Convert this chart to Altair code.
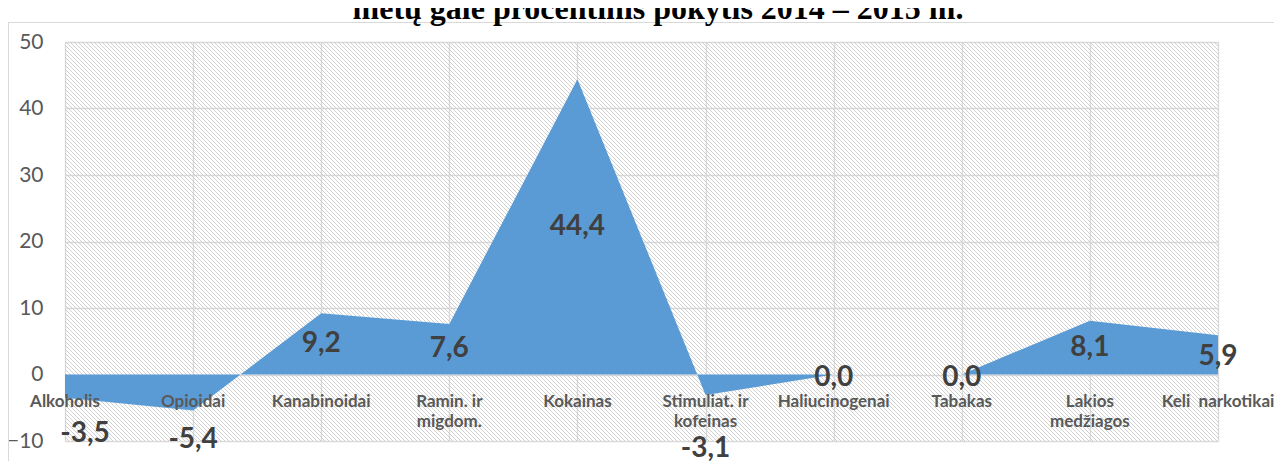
import altair as alt
import pandas as pd

# ---- data ----
categories = ["Alkoholis", "Opioidai", "Kanabinoidai", "Ramin. ir|migdom.", "Kokainas",
              "Stimuliat. ir|kofeinas", "Haliucinogenai", "Tabakas", "Lakios|medžiagos",
              "Keli\u00a0 narkotikai"]
values = [-3.5, -5.4, 9.2, 7.6, 44.4, -3.1, 0.0, 0.0, 8.1, 5.9]
# where each value label sits (data units), as placed in the original
label_anchor = [-8.9, -9.8, 4.6, 3.8, 22.2, -11.2, -0.6, -0.6, 4.05, 2.6]
y_ticks = [-10, 0, 10, 20, 30, 40, 50]
title_text = "metų gale procentinis pokytis 2014 – 2015 m."

df = pd.DataFrame({
    "idx": list(range(len(categories))),
    "cat": categories,
    "val": values,
    "anchor": label_anchor,
    "txt": [f"{v:.1f}".replace(".", ",") for v in values],
})

W, H = 1153, 399
GRID = "#d9d9d9"

# ---- hatch background: square tiles, each filled with a striped gradient (style only) ----
TILE = 24
n_per = (2 * TILE) // 4          # one 1px diagonal line every 4px
stripe = "#d0d0d0"
clear = "rgba(255,255,255,0)"
stops = []
for i in range(n_per):
    a = i / n_per
    s0 = (i + 0.125) / n_per
    s1 = (i + 0.375) / n_per
    e = (i + 1) / n_per
    stops += [
        alt.GradientStop(color=clear, offset=round(a, 6)),
        alt.GradientStop(color=clear, offset=round(s0, 6)),
        alt.GradientStop(color=stripe, offset=round(s0, 6)),
        alt.GradientStop(color=stripe, offset=round(s1, 6)),
        alt.GradientStop(color=clear, offset=round(s1, 6)),
        alt.GradientStop(color=clear, offset=round(e, 6)),
    ]
hatch_fill = alt.LinearGradient(gradient="linear", stops=stops, x1=0, y1=1, x2=1, y2=0)

tiles = pd.DataFrame(
    [{"tx": tx, "tx2": tx + TILE, "ty": ty, "ty2": ty + TILE}
     for tx in range(0, W, TILE) for ty in range(0, H, TILE)]
)

x_enc = alt.X("cat:N", sort=categories,
              scale=alt.Scale(type="point", padding=0),
              axis=alt.Axis(grid=True, labels=False, ticks=False, domain=False,
                            title=None, gridColor=GRID, gridWidth=1.3))
y_enc = alt.Y("val:Q",
              scale=alt.Scale(domain=[-10, 50], nice=False, zero=False),
              axis=alt.Axis(values=y_ticks, grid=True, ticks=False, domain=False,
                            title=None, gridColor=GRID, gridWidth=1.3,
                            labelFont="Lato", labelFontSize=21, labelColor="#595959",
                            labelPadding=22))

base = alt.Chart(df)
one = alt.Chart(pd.DataFrame({"a": [0]}))

hatch = alt.Chart(tiles).mark_rect(fill=hatch_fill, clip=True).encode(
    x=alt.X("tx:Q", scale=None), x2="tx2:Q",
    y=alt.Y("ty:Q", scale=None), y2="ty2:Q")

area = base.mark_area(color="#5B9BD5", opacity=1).encode(x=x_enc, y=y_enc)

cat_labels = base.mark_text(font="Lato", fontSize=17, fontWeight="bold", color="#595959",
                            baseline="top", lineBreak="|", lineHeight=20, dy=19).encode(
    x=alt.X("cat:N", sort=categories), y=alt.datum(0), text="cat:N")

val_labels = base.transform_filter(alt.datum.idx > 0).mark_text(
    font="Lato", fontSize=28, fontWeight="bold", color="#404040", baseline="middle").encode(
    x=alt.X("cat:N", sort=categories), y=alt.Y("anchor:Q"), text="txt:N")

val_label_first = base.transform_filter(alt.datum.idx == 0).mark_text(
    font="Lato", fontSize=28, fontWeight="bold", color="#404040", baseline="middle",
    dx=20).encode(
    x=alt.X("cat:N", sort=categories), y=alt.Y("anchor:Q"), text="txt:N")

border_top = one.mark_rule(color=GRID, strokeWidth=1).encode(
    x=alt.value(-57), x2=alt.value(1230), y=alt.value(-19.5))
border_left = one.mark_rule(color=GRID, strokeWidth=1).encode(
    x=alt.value(-56.5), y=alt.value(-19.5), y2=alt.value(480))

title = one.mark_text(font="Liberation Serif", fontSize=32, fontWeight="bold",
                      color="#000000", align="center", baseline="alphabetic").encode(
    x=alt.value(593), y=alt.value(-23), text=alt.value(title_text))

chart = alt.layer(
    hatch, area, cat_labels, val_labels, val_label_first, border_top, border_left, title
).properties(
    width=W, height=H,
    padding={"left": 57, "top": 34, "right": 56, "bottom": 20},
    autosize=alt.AutoSizeParams(type="none"),
).configure_view(stroke=None).configure(background="white")

chart.save("out.html", embed_options={"renderer": "svg", "actions": False})
